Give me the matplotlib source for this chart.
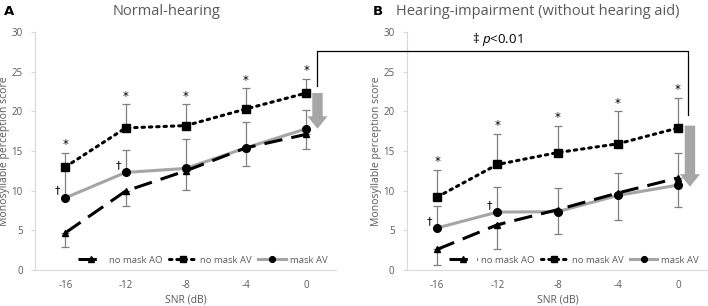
import matplotlib
matplotlib.use("Agg")
import matplotlib.pyplot as plt
from matplotlib.lines import Line2D

plt.rcParams['font.family'] = ['Open Sans', 'DejaVu Sans']
plt.rcParams['mathtext.fontset'] = 'custom'
plt.rcParams['mathtext.it'] = 'Open Sans:italic'
plt.rcParams['mathtext.rm'] = 'Open Sans'

snr = [-16, -12, -8, -4, 0]
series_names = ["no mask AO", "no mask AV", "mask AV"]

# Normal-hearing (panel A)
nh_ao = [4.7, 9.95, 12.5, 15.4, 17.1]
nh_ao_sd = [1.8, 1.9, 2.4, 2.3, 1.9]
nh_av = [13.0, 17.9, 18.2, 20.3, 22.3]
nh_av_sd = [1.8, 3.0, 2.7, 2.6, 1.8]
nh_mask = [9.1, 12.3, 12.8, 15.4, 17.8]
nh_mask_sd = [4.0, 2.8, 3.7, 3.3, 2.4]

# Hearing-impairment without hearing aid (panel B)
hi_ao = [2.6, 5.7, 7.6, 9.7, 11.6]
hi_ao_sd = [2.0, 3.0, 3.0, 3.4, 3.6]
hi_av = [9.2, 13.3, 14.8, 15.9, 17.9]
hi_av_sd = [3.4, 3.9, 3.4, 4.1, 3.8]
hi_mask = [5.3, 7.3, 7.35, 9.4, 10.7]
hi_mask_sd = [2.8, 3.1, 2.95, 2.8, 4.1]

star_snr = [-16, -12, -8, -4, 0]
dagger_snr = [-16, -12]

TXT = '#595959'
ERR = '#7f7f7f'
GRAY_LINE = '#a5a5a5'


def draw_panel(ax, ao, ao_sd, av, av_sd, mask, mask_sd, title):
    zeros = [0] * len(snr)
    # error bars first so the lines sit on top
    ax.errorbar(snr, ao, yerr=[ao_sd, zeros], fmt='none', ecolor=ERR,
                elinewidth=0.9, capsize=3, capthick=0.9, zorder=1)
    ax.errorbar(snr, av, yerr=[zeros, av_sd], fmt='none', ecolor=ERR,
                elinewidth=0.9, capsize=3, capthick=0.9, zorder=1)
    ax.errorbar(snr, mask, yerr=[zeros, mask_sd], fmt='none', ecolor=ERR,
                elinewidth=0.9, capsize=3, capthick=0.9, zorder=1)

    ax.plot(snr, ao, color='black', lw=2.2, dashes=(6, 3), marker='^',
            ms=5, label=series_names[0], zorder=3)
    ax.plot(snr, av, color='black', lw=2.2, linestyle=(0, (0.8, 1.6)),
            dash_capstyle='round', marker='s', ms=5.5, label=series_names[1], zorder=3)
    ax.plot(snr, mask, color=GRAY_LINE, lw=2.2, marker='o', ms=5.5,
            mfc='black', mec='black', label=series_names[2], zorder=2)

    for s in star_snr:
        i = snr.index(s)
        ax.text(s, av[i] + av_sd[i] + 0.2, '*', ha='center', va='bottom',
                fontsize=8.5, color='black', family='DejaVu Sans')
    for s in dagger_snr:
        i = snr.index(s)
        ax.text(s - 0.5, mask[i] + 0.9, '\u2020', ha='center', va='center',
                fontsize=8, color='black', family='DejaVu Sans')

    ax.set_xlim(-18, 2)
    ax.set_ylim(0, 30)
    ax.set_xticks(snr)
    ax.set_xticklabels([str(s) for s in snr])
    ax.set_yticks([0, 5, 10, 15, 20, 25, 30])
    ax.tick_params(axis='both', labelsize=7, colors=TXT, length=0, pad=7)
    ax.tick_params(axis='y', length=3, color='#d9d9d9', pad=6)
    for side in ['top', 'right']:
        ax.spines[side].set_visible(False)
    for side in ['left', 'bottom']:
        ax.spines[side].set_color('#d9d9d9')
        ax.spines[side].set_linewidth(0.8)
    ax.set_xlabel('SNR (dB)', fontsize=7.5, color=TXT, labelpad=3)
    ax.set_ylabel('Monosyllable perception score', fontsize=7.5, color=TXT, labelpad=1)
    ax.set_title(title, fontsize=10.5, color=TXT, pad=12, x=0.435)
    ax.legend(loc='center', bbox_to_anchor=(0.555, 0.042), ncol=3, frameon=False,
              fontsize=6.8, handlelength=2.9, columnspacing=0.7, handletextpad=0.4,
              labelcolor=TXT, borderpad=0, markerscale=0.75)


fig = plt.figure(figsize=(7.08, 3.06), dpi=100)
axA = fig.add_axes([0.050, 0.1176, 0.425, 0.778])
axB = fig.add_axes([0.575, 0.1176, 0.425, 0.778])

draw_panel(axA, nh_ao, nh_ao_sd, nh_av, nh_av_sd, nh_mask, nh_mask_sd, 'Normal-hearing')
draw_panel(axB, hi_ao, hi_ao_sd, hi_av, hi_av_sd, hi_mask, hi_mask_sd,
           'Hearing-impairment (without hearing aid)')

fig.text(0.005, 0.985, 'A', fontsize=9.5, fontweight='bold', va='top', family='DejaVu Sans')
fig.text(0.527, 0.985, 'B', fontsize=9.5, fontweight='bold', va='top', family='DejaVu Sans')

# big grey arrows showing the drop from no mask AV to mask AV at 0 dB
arrow_style = 'simple,head_length=0.9,head_width=1.45,tail_width=0.75'
axA.annotate('', xy=(0.75, nh_mask[-1]), xytext=(0.75, nh_av[-1]),
             arrowprops=dict(arrowstyle=arrow_style, color='#a6a6a6', mutation_scale=10,
                             shrinkA=0, shrinkB=0, lw=0), annotation_clip=False)
axB.annotate('', xy=(0.8, hi_mask[-1] - 0.2), xytext=(0.8, hi_av[-1] + 0.3),
             arrowprops=dict(arrowstyle=arrow_style, color='#a6a6a6', mutation_scale=10,
                             shrinkA=0, shrinkB=0, lw=0), annotation_clip=False)

# significance bracket joining the two arrows
to_fig = fig.transFigure.inverted()
pts = [axA.transData.transform((0.7, nh_av[-1] + 0.9)),
       axA.transData.transform((0.7, 27.6)),
       axB.transData.transform((0.7, 27.6)),
       axB.transData.transform((0.7, hi_av[-1] + 1.6))]
pts = [to_fig.transform(p) for p in pts]
fig.add_artist(Line2D([p[0] for p in pts], [p[1] for p in pts], color='black', lw=0.9))
xm = axB.transData.transform((-12, 29.0))
xm = to_fig.transform(xm)
fig.text(xm[0], xm[1], '\u2021 $\\it{p}$<0.01', ha='center', va='center', fontsize=9.5,
         color='black')

fig.savefig('out.png', dpi=100)
